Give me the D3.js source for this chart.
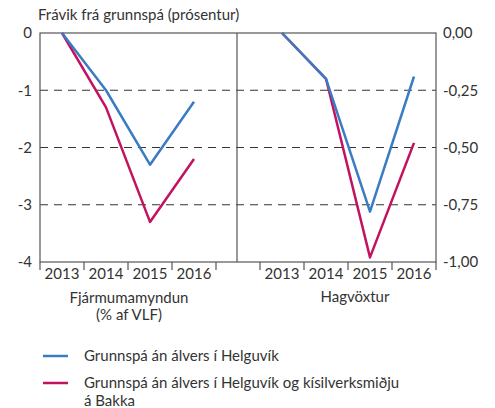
<!DOCTYPE html>
<html>
<head>
<meta charset="utf-8">
<script src="https://cdn.jsdelivr.net/npm/d3@7"></script>
<style>
  body { margin: 0; background: #fff; }
  text { font-family: Lato, "Open Sans", sans-serif; fill: #333; }
</style>
</head>
<body>
<div id="chart"></div>
<script>
// data
const years = ["2013", "2014", "2015", "2016"];
const fjarmBlue = [0, -1.0, -2.3, -1.2];
const fjarmRed = [0, -1.3, -3.3, -2.2];
const hagBlue = [0, -0.2, -0.78, -0.19];
const hagRed = [0, -0.2, -0.98, -0.48];
const leftTicks = [0, -1, -2, -3, -4];
const rightTicks = [0, -0.25, -0.5, -0.75, -1];
const legendLabels = [
  ["Grunnspá án álvers í Helguvík"],
  ["Grunnspá án álvers í Helguvík og kísilverksmiðju", "á Bakka"]
];

const blue = "#3a7cc3", red = "#c3125f", axisCol = "#555";
const W = 495, H = 408;
const pTop = 33, pBottom = 262, pLeft = 40, pRight = 436, pMid = 237;

const svg = d3.select("#chart").append("svg")
  .attr("width", W).attr("height", H);

const yL = d3.scaleLinear().domain([-4, 0]).range([pBottom, pTop]);
const yR = d3.scaleLinear().domain([-1, 0]).range([pBottom, pTop]);
const xL = d3.scaleBand().domain(years).range([40, 216]);
const xR = d3.scaleBand().domain(years).range([260, 436]);

// dashed gridlines
svg.append("g").selectAll("line")
  .data(leftTicks.slice(1, 4))
  .join("line")
  .attr("x1", pLeft).attr("x2", pRight)
  .attr("y1", d => yL(d)).attr("y2", d => yL(d))
  .attr("stroke", "#333").attr("stroke-width", 1)
  .attr("stroke-dasharray", "8,6");

// frame
svg.append("rect")
  .attr("x", pLeft).attr("y", pTop)
  .attr("width", pRight - pLeft).attr("height", pBottom - pTop)
  .attr("fill", "none").attr("stroke", axisCol).attr("stroke-width", 1.2);
svg.append("line")
  .attr("x1", pMid).attr("x2", pMid).attr("y1", pTop).attr("y2", pBottom)
  .attr("stroke", axisCol).attr("stroke-width", 1.2);

// y axes
const axL = svg.append("g")
  .attr("transform", `translate(${pLeft},0)`)
  .call(d3.axisLeft(yL).tickValues(leftTicks).tickSize(0).tickPadding(8)
    .tickFormat(d => String(d)));
axL.select(".domain").remove();
axL.selectAll("text").style("font-size", "15px").attr("font-family", null);

const axR = svg.append("g")
  .attr("transform", `translate(${pRight},0)`)
  .call(d3.axisRight(yR).tickValues(rightTicks).tickSize(0).tickPadding(7)
    .tickFormat(d => d.toFixed(2).replace(".", ",")));
axR.select(".domain").remove();
axR.selectAll("text").style("font-size", "15px").attr("font-family", null);

// x axes
function xAxis(x) {
  const g = svg.append("g").attr("transform", `translate(0,${pBottom})`)
    .call(d3.axisBottom(x).tickSize(0).tickPadding(6));
  g.select(".domain").remove();
  g.selectAll("text").style("font-size", "15px").attr("font-family", null);
  const r = x.range();
  const edges = years.map(y => x(y)).concat([r[1]]);
  g.selectAll(".edge").data(edges).join("line")
    .attr("x1", d => d).attr("x2", d => d)
    .attr("y1", 0).attr("y2", 8)
    .attr("stroke", axisCol).attr("stroke-width", 1.2);
}
xAxis(xL);
xAxis(xR);

// lines
function drawLine(x, y, vals, color) {
  const ln = d3.line()
    .x((d, i) => x(years[i]) + x.bandwidth() / 2)
    .y(d => y(d));
  svg.append("path").datum(vals)
    .attr("d", ln).attr("fill", "none")
    .attr("stroke", color).attr("stroke-width", 2.5)
    .attr("stroke-linejoin", "round");
}
drawLine(xL, yL, fjarmRed, red);
drawLine(xL, yL, fjarmBlue, blue);
drawLine(xR, yR, hagRed, red);
drawLine(xR, yR, hagBlue, blue);

// titles
svg.append("text").attr("x", 38).attr("y", 20)
  .style("font-size", "15px").text("Frávik frá grunnspá (prósentur)");
svg.append("text").attr("x", 129).attr("y", 303).attr("text-anchor", "middle")
  .style("font-size", "15px").text("Fjármumamyndun");
svg.append("text").attr("x", 129).attr("y", 320).attr("text-anchor", "middle")
  .style("font-size", "15px").text("(% af VLF)");
svg.append("text").attr("x", 355).attr("y", 302).attr("text-anchor", "middle")
  .style("font-size", "15px").text("Hagvöxtur");

// legend
const leg = svg.append("g").attr("transform", "translate(43,356)");
const items = leg.selectAll("g").data(legendLabels).join("g")
  .attr("transform", (d, i) => `translate(0,${i * 27})`);
items.append("line").attr("x1", 0).attr("x2", 25).attr("y1", 0).attr("y2", 0)
  .attr("stroke", (d, i) => i === 0 ? blue : red).attr("stroke-width", 2.5);
items.each(function(d) {
  const t = d3.select(this).append("text").attr("x", 41).attr("y", 5)
    .style("font-size", "15px");
  d.forEach((s, j) => t.append("tspan").attr("x", 41).attr("dy", j ? 18 : 0).text(s));
});
</script>
</body>
</html>
